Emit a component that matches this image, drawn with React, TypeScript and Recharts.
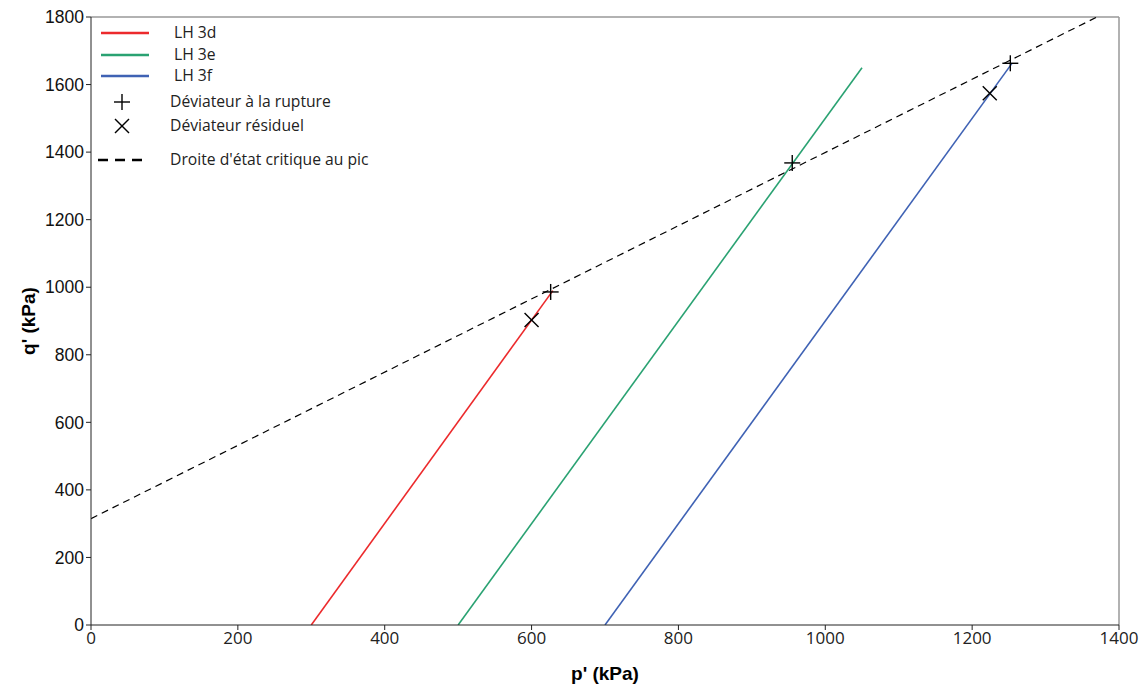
import React from 'react'
import { ComposedChart, Line, Scatter, XAxis, YAxis, ReferenceLine } from 'recharts'

// stress paths (p', q') in kPa
const lh3d = [
  { p: 300, q: 0 },
  { p: 629, q: 990 },
]
const lh3e = [
  { p: 500, q: 0 },
  { p: 1050, q: 1650 },
]
const lh3f = [
  { p: 700, q: 0 },
  { p: 1254, q: 1662 },
]
const critLine = [
  { p: 0, q: 315 },
  { p: 1370, q: 1800 },
]
const rupture = [
  { p: 626, q: 986 },
  { p: 955, q: 1368 },
  { p: 1252, q: 1663 },
]
const residual = [
  { p: 600, q: 903 },
  { p: 1224, q: 1574 },
]

const xTicks = [0, 200, 400, 600, 800, 1000, 1200, 1400]
const yTicks = [0, 200, 400, 600, 800, 1000, 1200, 1400, 1600, 1800]

const RED = '#ec2a2c'
const GREEN = '#2aa272'
const BLUE = '#3f62b4'

const PlusShape = ({ cx, cy }: any) => (
  <g stroke="#000" strokeWidth={1.4}>
    <line x1={cx - 8} y1={cy} x2={cx + 8} y2={cy} />
    <line x1={cx} y1={cy - 8} x2={cx} y2={cy + 8} />
  </g>
)

const CrossShape = ({ cx, cy }: any) => (
  <g stroke="#000" strokeWidth={1.4}>
    <line x1={cx - 7} y1={cy - 7} x2={cx + 7} y2={cy + 7} />
    <line x1={cx - 7} y1={cy + 7} x2={cx + 7} y2={cy - 7} />
  </g>
)

const legendFont = { fontFamily: '"Open Sans", sans-serif', fontSize: 15.7, fill: '#222' }

const ChartLegend = () => (
  <svg width={380} height={160} style={{ position: 'absolute', left: 92, top: 17 }}>
    <line x1={9} y1={16} x2={57} y2={16} stroke={RED} strokeWidth={2.5} />
    <text x={82} y={21} {...legendFont}>LH 3d</text>
    <line x1={9} y1={38} x2={57} y2={38} stroke={GREEN} strokeWidth={2.5} />
    <text x={82} y={43} {...legendFont}>LH 3e</text>
    <line x1={9} y1={59} x2={57} y2={59} stroke={BLUE} strokeWidth={2.5} />
    <text x={82} y={64} {...legendFont}>LH 3f</text>
    <PlusShape cx={30} cy={85} />
    <text x={78} y={90} {...legendFont}>Déviateur à la rupture</text>
    <CrossShape cx={30} cy={109} />
    <text x={78} y={114} {...legendFont}>Déviateur résiduel</text>
    <line x1={6} y1={143} x2={57} y2={143} stroke="#000" strokeWidth={2.5} strokeDasharray="10 7" />
    <text x={78} y={148} {...legendFont}>Droite d'état critique au pic</text>
  </svg>
)

export default function App() {
  return (
    <div style={{ position: 'absolute', left: 0, top: 0, width: 1144, height: 689, background: '#fff' }}>
      <ComposedChart width={1144} height={689} margin={{ top: 17, right: 25, bottom: 0, left: 0 }}>
        <XAxis
          type="number"
          dataKey="p"
          domain={[0, 1400]}
          ticks={xTicks}
          interval={0}
          allowDataOverflow
          stroke="#222"
          tickSize={5}
          tick={{ fill: '#222', fontSize: 17, fontFamily: '"Open Sans", sans-serif' }}
          height={64}
          label={{ value: "p' (kPa)", position: 'insideBottom', offset: 9, style: { fontFamily: '"Liberation Sans", Arial, sans-serif', fontWeight: 'bold', fontSize: 19, fill: '#000' } }}
        />
        <YAxis
          type="number"
          dataKey="q"
          domain={[0, 1800]}
          ticks={yTicks}
          interval={0}
          allowDataOverflow
          stroke="#222"
          tickSize={5}
          width={91}
          tick={{ fill: '#111', fontSize: 17.5, fontFamily: '"Liberation Sans", Arial, sans-serif' }}
          label={{ value: "q' (kPa)", angle: -90, position: 'insideLeft', offset: 28, style: { textAnchor: 'middle', fontFamily: '"Liberation Sans", Arial, sans-serif', fontWeight: 'bold', fontSize: 19, fill: '#000' } }}
        />
        <ReferenceLine y={1800} stroke="#999" strokeWidth={1.5} />
        <ReferenceLine x={1400} stroke="#999" strokeWidth={1.5} />
        <Line data={critLine} dataKey="q" stroke="#000" strokeWidth={1.2} strokeDasharray="7 5" dot={false} isAnimationActive={false} />
        <Line data={lh3d} dataKey="q" stroke={RED} strokeWidth={1.6} dot={false} isAnimationActive={false} />
        <Line data={lh3e} dataKey="q" stroke={GREEN} strokeWidth={1.6} dot={false} isAnimationActive={false} />
        <Line data={lh3f} dataKey="q" stroke={BLUE} strokeWidth={1.6} dot={false} isAnimationActive={false} />
        <Scatter data={rupture} dataKey="q" shape={<PlusShape />} isAnimationActive={false} />
        <Scatter data={residual} dataKey="q" shape={<CrossShape />} isAnimationActive={false} />
      </ComposedChart>
      <ChartLegend />
    </div>
  )
}
